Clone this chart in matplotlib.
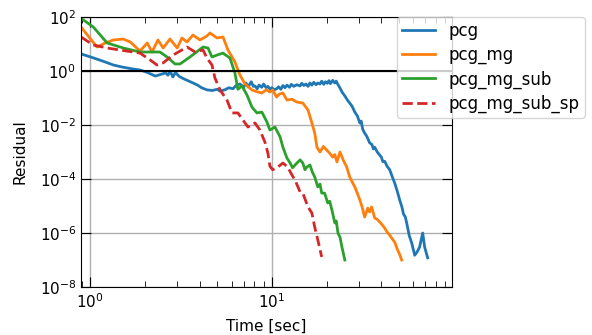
import matplotlib
matplotlib.use("Agg")
import matplotlib.pyplot as plt
from matplotlib.ticker import NullLocator

# residual histories
pcg_t = [0.89, 1.05, 1.2, 1.34, 1.5, 1.7, 1.88, 2.05, 2.28, 2.45, 2.6, 2.68, 2.75, 2.85, 2.95,
         3.01, 3.1, 3.3, 3.5, 3.68, 3.9, 4.1, 4.39, 4.7, 5.0, 5.18, 5.5, 5.8, 6.1, 6.4, 6.67,
         7.0, 7.2, 7.4, 7.7, 7.9, 8.07, 8.3, 8.5, 8.8, 9.0, 9.3, 9.5, 9.8, 10.0, 10.3, 10.6,
         10.9, 11.2, 11.5, 11.8, 12.1, 12.5, 12.8, 13.2, 13.7, 14.3, 14.6, 15.0, 15.4, 15.8,
         16.2, 16.6, 17.0, 17.5, 17.9, 18.4, 18.8, 19.3, 19.7, 20.2, 20.6, 21.0, 21.6, 22.2,
         22.6, 23.0, 23.7, 24.4, 25.2, 26.0, 26.8, 27.6, 28.6, 29.5, 30.5, 31.0, 31.6, 32.4,
         33.3, 34.5, 35.5, 36.2, 36.8, 38.0, 39.2, 40.0, 40.8, 41.8, 43.0, 44.5, 46.0, 47.4,
         49.0, 50.5, 52.0, 53.0, 54.2, 55.2, 57.0, 58.8, 61.1, 63.0, 65.0, 67.6, 69.3, 72.0]
pcg_r = [4.3, 3.0, 2.2, 1.67, 1.4, 1.2, 1.09, 0.9, 0.65, 0.75, 0.85, 0.7, 1.0, 0.6, 0.9,
         0.75, 0.62, 0.5, 0.42, 0.36, 0.3, 0.24, 0.2, 0.19, 0.21, 0.18, 0.2, 0.24, 0.22, 0.3, 0.33,
         0.25, 0.36, 0.26, 0.4, 0.27, 0.28, 0.22, 0.3, 0.25, 0.33, 0.24, 0.27, 0.21, 0.24, 0.2,
         0.22, 0.26, 0.21, 0.29, 0.24, 0.3, 0.25, 0.32, 0.27, 0.31, 0.28, 0.35, 0.29, 0.33, 0.27,
         0.36, 0.3, 0.38, 0.31, 0.36, 0.33, 0.42, 0.32, 0.4, 0.35, 0.44, 0.34, 0.45, 0.36,
         0.42, 0.33, 0.235, 0.16, 0.12, 0.085, 0.065, 0.05, 0.03, 0.022, 0.0119, 0.014, 0.007,
         0.005, 0.0038, 0.0022, 0.0019, 0.0013, 0.0015, 0.001, 7.7e-4, 6.5e-4, 4.4e-4, 4.5e-4,
         3.0e-4, 2.2e-4, 1.2e-4, 7.1e-5, 3.5e-5, 1.67e-5, 9e-6, 5e-6, 4e-6, 2.35e-6, 8e-7,
         4.3e-7, 1.5e-7, 2.0e-7, 3.0e-7, 1.0e-6, 3.0e-7, 1.2e-7]

mg_t = [0.89, 1.09, 1.21, 1.34, 1.52, 1.66, 1.88, 2.06, 2.19, 2.36, 2.52, 2.75, 3.01, 3.2,
        3.41, 3.68, 4.02, 4.39, 4.56, 4.99, 5.38, 5.73, 6.26, 6.67, 7.11, 7.77, 8.3, 8.81,
        9.3, 9.75, 10.1, 10.6, 11.0, 11.5, 12.1, 12.9, 13.7, 14.8, 15.8, 16.6, 17.2, 17.7,
        18.4, 19.2, 20.0, 20.8, 21.6, 22.2, 22.8, 23.7, 24.7, 25.8, 26.8, 27.6, 28.6, 29.5,
        30.5, 31.4, 32.4, 33.7, 34.5, 35.4, 36.8, 38.0, 39.2, 40.5, 41.8, 43.0, 44.5, 46.0,
        47.4, 49.2, 50.5, 51.8]
mg_r = [42.6, 7.74, 10.9, 14.1, 15.3, 11.9, 5.5, 10.9, 5.05, 14.1, 7.1, 15.3, 7.1, 16.7,
        11.9, 21.5, 14.1, 19.8, 25.6, 16.7, 18.2, 6.0, 2.15, 0.71, 0.33, 0.198, 0.17, 0.153,
        0.2, 0.167, 0.198, 0.109, 0.14, 0.153, 0.084, 0.09, 0.071, 0.065, 0.036, 0.0119, 0.0051,
        0.0015, 0.001, 0.0016, 0.0012, 0.0009, 0.00065, 0.0008, 0.00043, 0.001, 0.0005, 0.00028,
        1.2e-4, 8e-5, 5.1e-5, 3.0e-5, 1.67e-5, 9e-6, 3.9e-6, 8.4e-6, 6e-6, 9.2e-6, 3.6e-6,
        3.2e-6, 2.55e-6, 2.0e-6, 1.5e-6, 1.1e-6, 8.4e-7, 6e-7, 4.6e-7, 2.35e-7, 1.6e-7, 1.0e-7]

sub_t = [0.89, 1.04, 1.24, 1.52, 1.88, 2.42, 2.65, 2.93, 3.12, 3.54, 4.18, 4.45, 4.68,
         4.99, 5.38, 5.88, 6.26, 6.5, 6.84, 7.29, 7.77, 8.27, 8.81, 9.39, 9.75, 10.4, 11.1,
         11.5, 12.1, 12.6, 13.0, 13.4, 14.3, 14.8, 15.2, 15.6, 16.2, 16.7, 17.2, 17.9, 18.4,
         18.8, 19.5, 20.3, 20.8, 21.4, 22.2, 22.6, 23.1, 23.7, 24.3, 25.2]
sub_r = [90.0, 42.6, 10.9, 7.1, 5.05, 5.05, 3.3, 1.82, 1.82, 3.3, 7.74, 7.1, 3.3,
         3.9, 4.6, 3.0, 0.84, 0.21, 0.28, 0.13, 0.046, 0.028, 0.03, 0.013, 0.0065, 0.0084, 0.0036,
         0.0015, 6e-4, 3.9e-4, 2.6e-4, 3.3e-4, 5.1e-4, 3.9e-4, 2.2e-4, 2.8e-4, 3.3e-4, 1.8e-4,
         1.2e-4, 5.1e-5, 6.5e-5, 3.0e-5, 3.0e-5, 1.3e-5, 1.5e-5, 7.1e-6, 2.35e-6, 2.8e-6,
         1.0e-6, 7e-7, 3.0e-7, 1.0e-7]

sp_t = [0.89, 1.04, 1.24, 1.72, 1.88, 2.14, 2.33, 2.52, 2.86, 3.41, 3.78, 4.18, 4.39, 4.68,
        4.86, 5.18, 5.66, 6.03, 6.5, 6.93, 7.38, 8.07, 8.59, 9.16, 9.51, 9.75, 10.1, 10.8,
        11.5, 12.2, 12.9, 13.4, 14.3, 14.8, 15.8, 16.6, 17.2, 17.9, 18.8]
sp_r = [18.2, 9.2, 7.1, 5.05, 4.6, 2.55, 1.67, 2.0, 3.9, 7.74, 5.05, 6.0, 3.0, 1.67,
        0.55, 0.2, 0.084, 0.028, 0.028, 0.0153, 0.0084, 0.0119, 0.0065, 0.0023, 0.0009, 0.0003,
        2.2e-4, 2.8e-4, 3.9e-4, 2.8e-4, 1.4e-4, 9.2e-5, 3.3e-5, 3.0e-5, 9.2e-6, 5.5e-6, 1.67e-6,
        5.5e-7, 1.3e-7]

labels = ["pcg", "pcg_mg", "pcg_mg_sub", "pcg_mg_sub_sp"]

plt.rcParams['font.size'] = 11

fig = plt.figure(figsize=(5.92, 3.35), dpi=100)
ax = fig.add_axes([81 / 592, 48 / 335, 371 / 592, 270 / 335])

ax.plot(pcg_t, pcg_r, color='C0', lw=2, label=labels[0])
ax.plot(mg_t, mg_r, color='C1', lw=2, label=labels[1])
ax.plot(sub_t, sub_r, color='C2', lw=2, label=labels[2])
ax.plot(sp_t, sp_r, color='C3', lw=2, ls='--', label=labels[3])
ax.axhline(1.0, color='k', lw=1.5)

ax.set_xscale('log')
ax.set_yscale('log')
ax.set_xlim(0.89, 98)
ax.set_ylim(1e-8, 1e2)
ax.set_yticks([1e-8, 1e-6, 1e-4, 1e-2, 1e0, 1e2])
ax.yaxis.set_minor_locator(NullLocator())
ax.grid(True, which='major', color='#b0b0b0', lw=1)
ax.tick_params(which='both', direction='in', top=True, right=True)
ax.tick_params(which='major', length=7)
ax.tick_params(which='minor', length=4)

ax.set_xlabel('Time [sec]', labelpad=6)
ax.set_ylabel('Residual', labelpad=9)

ax.legend(loc='upper left', bbox_to_anchor=(397 / 592, 1 - 17 / 335),
          bbox_transform=fig.transFigure, borderaxespad=0, fontsize=12,
          labelspacing=0.36, borderpad=0.3)

fig.savefig('out.png', dpi=100)
